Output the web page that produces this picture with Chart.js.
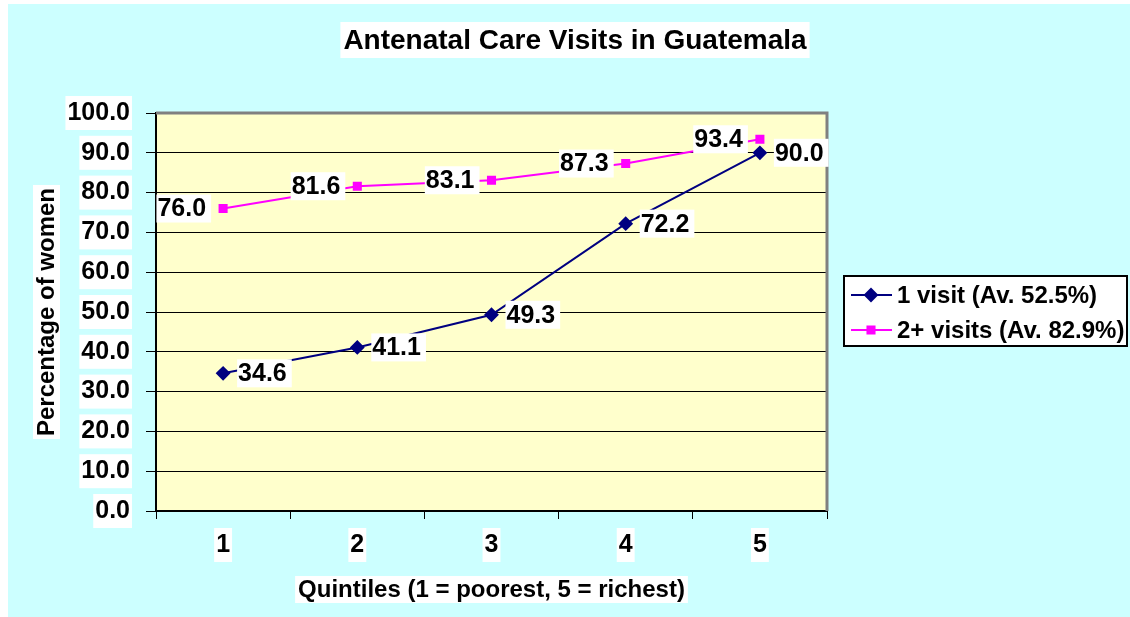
<!DOCTYPE html>
<html>
<head>
<meta charset="utf-8">
<script src="https://cdn.jsdelivr.net/npm/chart.js@4.4.1/dist/chart.umd.min.js"></script>
<style>
  html, body { margin: 0; padding: 0; background: #fff; }
  #wrap { width: 1130px; height: 617px; }
</style>
</head>
<body>
<div id="wrap"><canvas id="myChart" width="1130" height="617"></canvas></div>
<script>
// chart data
var quintiles = ['1', '2', '3', '4', '5'];
var oneVisit = [34.6, 41.1, 49.3, 72.2, 90.0];
var twoPlusVisits = [76.0, 81.6, 83.1, 87.3, 93.4];
var seriesNames = ['1 visit (Av. 52.5%)', '2+ visits (Av. 82.9%)'];
var chartTitle = 'Antenatal Care Visits in Guatemala';
var xTitle = 'Quintiles (1 = poorest, 5 = richest)';
var yTitle = 'Percentage of women';

var FONT = '"Liberation Sans", Arial, sans-serif';

function whiteBox(ctx, x, y, w, h) {
    ctx.fillStyle = '#ffffff';
    ctx.fillRect(x, y, w, h);
}

var decor = {
    id: 'decor',
    beforeDraw: function (chart) {
        var ctx = chart.ctx, a = chart.chartArea;
        ctx.save();
        ctx.fillStyle = '#ffffff';
        ctx.fillRect(0, 0, chart.width, chart.height);
        ctx.fillStyle = '#CCFFFF';
        ctx.fillRect(8, 4, chart.width - 8, chart.height - 4);
        ctx.fillStyle = '#FFFFCC';
        ctx.fillRect(a.left, a.top, a.right - a.left, a.bottom - a.top);
        ctx.restore();
    },
    beforeDatasetsDraw: function (chart) {
        var ctx = chart.ctx, a = chart.chartArea;
        ctx.save();
        ctx.strokeStyle = '#808080';
        ctx.lineWidth = 3;
        ctx.beginPath();
        ctx.moveTo(a.left, a.top);
        ctx.lineTo(a.right, a.top);
        ctx.lineTo(a.right, a.bottom);
        ctx.stroke();
        ctx.restore();
    },
    afterDatasetsDraw: function (chart) {
        // value labels, blue ones to the right, pink ones to the left
        var ctx = chart.ctx;
        ctx.save();
        ctx.font = 'bold 25px ' + FONT;
        ctx.textBaseline = 'middle';
        chart.data.datasets.forEach(function (ds, i) {
            var meta = chart.getDatasetMeta(i);
            meta.data.forEach(function (pt, j) {
                var txt = ds.data[j].toFixed(1);
                var w = ctx.measureText(txt).width;
                var left = i === 0 ? pt.x + 14 : pt.x - 12 - w - 6;
                whiteBox(ctx, left, pt.y - 14, w + 6, 28);
                ctx.fillStyle = '#000000';
                ctx.textAlign = 'left';
                ctx.fillText(txt, left + 1, pt.y + 1);
            });
        });
        ctx.restore();
    },
    afterDraw: function (chart) {
        var ctx = chart.ctx, a = chart.chartArea;
        ctx.save();
        ctx.textAlign = 'center';
        ctx.textBaseline = 'middle';

        // title
        ctx.font = 'bold 28px ' + FONT;
        var tw = ctx.measureText(chartTitle).width;
        whiteBox(ctx, 575 - tw / 2 - 3, 22, tw + 6, 36);
        ctx.fillStyle = '#000';
        ctx.fillText(chartTitle, 575, 41);

        // x axis title
        ctx.font = 'bold 24px ' + FONT;
        var xw = ctx.measureText(xTitle).width;
        var xc = (a.left + a.right) / 2;
        whiteBox(ctx, xc - xw / 2 - 3, 576, xw + 6, 27);
        ctx.fillStyle = '#000';
        ctx.fillText(xTitle, xc, 590);

        // y axis title
        var yw = ctx.measureText(yTitle).width;
        ctx.translate(46, (a.top + a.bottom) / 2);
        ctx.rotate(-Math.PI / 2);
        whiteBox(ctx, -yw / 2 - 3, -13, yw + 6, 27);
        ctx.fillStyle = '#000';
        ctx.fillText(yTitle, 0, 1);
        ctx.setTransform(1, 0, 0, 1, 0, 0);

        // legend
        ctx.fillStyle = '#ffffff';
        ctx.fillRect(843, 275, 285, 71);
        ctx.strokeStyle = '#000';
        ctx.lineWidth = 2;
        ctx.strokeRect(844, 276, 283, 70);
        ctx.textAlign = 'left';
        ctx.font = 'bold 24px ' + FONT;
        chart.data.datasets.forEach(function (ds, i) {
            var y = 295 + i * 35;
            ctx.strokeStyle = ds.borderColor;
            ctx.lineWidth = 2;
            ctx.beginPath();
            ctx.moveTo(851, y);
            ctx.lineTo(892, y);
            ctx.stroke();
            Chart.helpers.drawPoint(ctx, {
                pointStyle: ds.pointStyle,
                radius: ds.pointRadius,
                borderWidth: 1,
                rotation: 0
            }, 871, y);
            ctx.fillStyle = ds.pointBackgroundColor;
            ctx.strokeStyle = ds.borderColor;
            ctx.fill();
            ctx.fillStyle = '#000';
            ctx.fillText(ds.label, 897, y + 1);
        });
        ctx.restore();
    }
};

var ctx = document.getElementById('myChart').getContext('2d');
var myChart = new Chart(ctx, {
    type: 'line',
    data: {
        labels: quintiles,
        datasets: [{
            label: seriesNames[0],
            data: oneVisit,
            borderColor: '#000080',
            backgroundColor: '#000080',
            pointBackgroundColor: '#000080',
            pointBorderColor: '#000080',
            pointStyle: 'rectRot',
            pointRadius: 6,
            borderWidth: 2,
            tension: 0
        }, {
            label: seriesNames[1],
            data: twoPlusVisits,
            borderColor: '#FF00FF',
            backgroundColor: '#FF00FF',
            pointBackgroundColor: '#FF00FF',
            pointBorderColor: '#FF00FF',
            pointStyle: 'rect',
            pointRadius: 5,
            borderWidth: 2,
            tension: 0
        }]
    },
    options: {
        responsive: false,
        animation: false,
        events: [],
        layout: {
            padding: { left: 0, top: 113, right: 303, bottom: 0 }
        },
        plugins: {
            legend: { display: false },
            title: { display: false },
            tooltip: { enabled: false }
        },
        scales: {
            x: {
                type: 'category',
                offset: true,
                grid: {
                    offset: true,
                    drawOnChartArea: false,
                    color: '#000',
                    tickLength: 8
                },
                border: { color: '#000', width: 2 },
                ticks: {
                    color: '#000',
                    font: { family: FONT, size: 25, weight: 'bold' },
                    padding: 11,
                    showLabelBackdrop: true,
                    backdropColor: '#ffffff',
                    backdropPadding: 2
                },
                afterFit: function (scale) { scale.height = 106; }
            },
            y: {
                min: 0,
                max: 100,
                grid: {
                    color: '#000',
                    tickLength: 10
                },
                border: { color: '#000', width: 2 },
                ticks: {
                    stepSize: 10,
                    color: '#000',
                    font: { family: FONT, size: 25, weight: 'bold' },
                    padding: 16,
                    showLabelBackdrop: true,
                    backdropColor: '#ffffff',
                    backdropPadding: 2,
                    callback: function (v) { return v.toFixed(1); }
                },
                afterFit: function (scale) { scale.width = 156; }
            }
        }
    },
    plugins: [decor]
});
</script>
</body>
</html>
